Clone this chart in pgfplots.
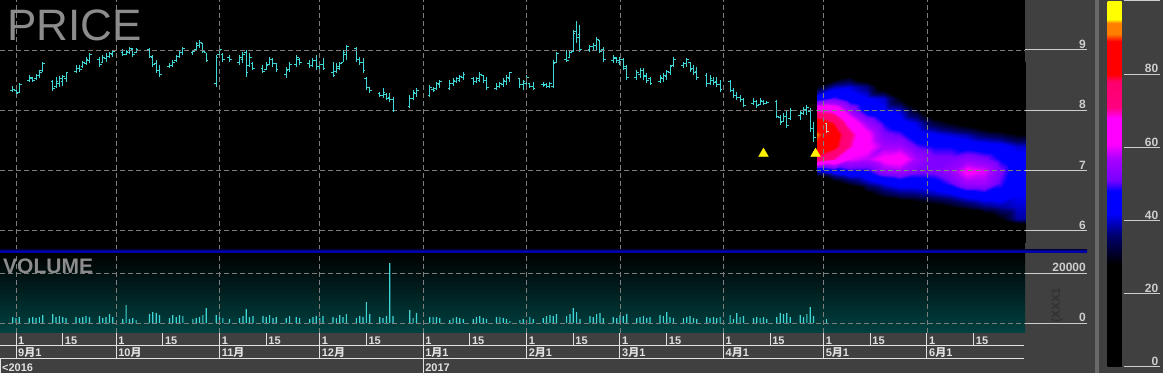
\documentclass[border=0pt]{standalone}
\usepackage{fontspec}
\setmainfont{Liberation Sans}
\newfontfamily\cjk{Noto Sans CJK SC}
\usepackage{pgfplots}
\usepackage{pgfplotstable}
\pgfplotsset{compat=1.18}

\definecolor{bgray}{RGB}{64,64,64}
\definecolor{sepgray}{RGB}{105,105,105}
\definecolor{barc}{RGB}{64,214,214}
\definecolor{gridc}{RGB}{125,125,125}
\definecolor{tickc}{RGB}{205,205,205}
\definecolor{labc}{RGB}{205,205,205}
\definecolor{datec}{RGB}{225,225,225}
\definecolor{teal0}{RGB}{0,66,66}
\definecolor{titlec}{RGB}{140,140,140}
\definecolor{faint}{RGB}{50,50,50}
\definecolor{lastbar}{RGB}{200,200,200}

\newcommand\yue{{\cjk 月}}
\newcommand\tickfont{\fontsize{12bp}{12bp}\selectfont\bfseries}
\newcommand\datefont{\fontsize{11bp}{11bp}\selectfont\bfseries}

\pgfdeclareplotmark{otick}{\pgfpathmoveto{\pgfpoint{-2.2bp}{0pt}}\pgfpathlineto{\pgfpoint{0pt}{0pt}}\pgfusepathqstroke}
\pgfdeclareplotmark{ctick}{\pgfpathmoveto{\pgfpoint{0pt}{0pt}}\pgfpathlineto{\pgfpoint{2.2bp}{0pt}}\pgfusepathqstroke}

\pgfplotsset{colormap={heat}{
 rgb255(0cm)=(0,0,0); rgb255(2.8cm)=(0,0,0); rgb255(3.6cm)=(0,0,110);
 rgb255(4.2cm)=(0,0,255); rgb255(4.8cm)=(0,0,255); rgb255(5.1cm)=(120,0,255);
 rgb255(5.7cm)=(170,0,255); rgb255(6.1cm)=(255,0,255); rgb255(6.8cm)=(255,0,255);
 rgb255(7.1cm)=(255,0,128); rgb255(7.8cm)=(255,0,110); rgb255(8.0cm)=(255,0,0);
 rgb255(8.9cm)=(255,0,0); rgb255(9.1cm)=(255,128,0); rgb255(9.4cm)=(255,128,0);
 rgb255(9.5cm)=(255,255,0); rgb255(10cm)=(255,255,0)}}

\pgfplotstableread{
d o h l c v
-1 8.32 8.40 8.30 8.35 2400
0 8.33 8.37 8.25 8.28 2000
1 8.30 8.45 8.29 8.43 2400
4 8.50 8.59 8.47 8.55 2000
5 8.52 8.55 8.47 8.50 2400
6 8.52 8.60 8.50 8.57 2000
7 8.57 8.67 8.54 8.63 2400
8 8.66 8.80 8.64 8.78 3200
11 8.47 8.50 8.32 8.36 3600
12 8.40 8.55 8.37 8.48 2400
13 8.45 8.57 8.39 8.52 2800
14 8.48 8.59 8.40 8.56 2400
15 8.52 8.64 8.47 8.62 2000
18 8.64 8.75 8.62 8.70 2400
19 8.70 8.75 8.64 8.68 2000
20 8.72 8.81 8.70 8.79 2400
21 8.78 8.88 8.75 8.85 2800
22 8.82 8.95 8.79 8.92 2400
25 8.85 8.88 8.72 8.76 2800
26 8.80 8.92 8.79 8.88 2000
27 8.86 8.95 8.80 8.90 2400
28 8.90 8.97 8.87 8.94 3600
29 8.92 9.00 8.88 8.97 2400
32 8.95 9.02 8.90 8.93 1600
33 8.93 9.00 8.92 8.97 7200
34 8.96 9.05 8.93 9.02 1600
35 9.00 9.03 8.88 8.92 2000
36 8.96 9.03 8.95 9.00 1200
40 9.00 9.03 8.87 8.90 3600
41 8.88 8.92 8.72 8.76 4400
42 8.78 8.83 8.62 8.66 4000
43 8.66 8.75 8.55 8.60 3200
46 8.72 8.79 8.70 8.75 2000
47 8.74 8.83 8.72 8.80 3200
48 8.82 8.92 8.80 8.90 2400
49 8.90 9.00 8.87 8.96 3200
50 8.95 9.05 8.92 9.02 2800
53 8.95 9.00 8.92 8.97 1600
54 9.00 9.13 9.00 9.10 2000
55 9.08 9.17 9.03 9.12 2400
56 9.10 9.12 8.95 8.98 3200
57 8.95 8.95 8.80 8.83 6000
60 8.45 8.92 8.39 8.88 3200
61 8.92 9.05 8.88 9.00 2400
62 8.93 8.95 8.80 8.85 2000
64 8.88 8.92 8.80 8.85 1600
67 8.80 8.92 8.75 8.88 2000
68 8.85 8.97 8.79 8.93 2800
69 8.95 9.00 8.55 8.62 5600
70 8.75 8.95 8.72 8.88 2400
71 8.78 8.80 8.67 8.70 2800
74 8.70 8.75 8.62 8.65 2800
75 8.68 8.80 8.67 8.75 2400
76 8.76 8.88 8.75 8.85 3200
77 8.84 8.87 8.72 8.78 2000
78 8.77 8.79 8.64 8.68 2400
81 8.60 8.72 8.54 8.66 2000
82 8.67 8.80 8.64 8.76 2800
84 8.76 8.92 8.72 8.88 2400
85 8.85 8.87 8.75 8.80 2000
88 8.78 8.83 8.70 8.74 1600
89 8.75 8.87 8.72 8.82 2400
90 8.82 8.92 8.67 8.72 2800
91 8.72 8.80 8.67 8.76 2000
92 8.76 8.87 8.67 8.70 2800
95 8.62 8.80 8.55 8.58 2400
96 8.64 8.79 8.62 8.72 2000
97 8.70 8.80 8.67 8.77 3200
98 8.80 9.00 8.80 8.95 2400
99 8.92 9.08 8.83 9.05 3600
102 9.03 9.05 8.80 8.85 2000
103 8.84 8.88 8.75 8.80 2800
104 8.80 8.87 8.62 8.66 2400
105 8.52 8.55 8.34 8.38 8400
106 8.37 8.39 8.29 8.32 3600
109 8.28 8.30 8.22 8.25 2400
110 8.25 8.37 8.20 8.30 2000
111 8.27 8.29 8.17 8.20 2800
112 8.22 8.29 8.14 8.18 24000
113 8.18 8.22 7.97 8.00 2800
118 8.06 8.25 8.04 8.20 5200
119 8.20 8.34 8.17 8.30 2000
120 8.28 8.37 8.22 8.33 4000
124 8.25 8.42 8.22 8.38 2400
125 8.35 8.39 8.30 8.33 2400
126 8.36 8.47 8.34 8.44 2400
127 8.42 8.50 8.37 8.47 2000
130 8.36 8.50 8.34 8.45 1200
131 8.44 8.54 8.40 8.50 2000
132 8.48 8.55 8.45 8.52 2400
133 8.50 8.59 8.47 8.56 2000
134 8.55 8.64 8.50 8.60 1600
137 8.52 8.55 8.42 8.47 1600
138 8.47 8.55 8.45 8.52 2400
139 8.50 8.64 8.47 8.60 2800
140 8.58 8.59 8.45 8.50 2000
141 8.50 8.55 8.34 8.38 1600
144 8.36 8.45 8.34 8.40 2400
145 8.40 8.47 8.37 8.44 2400
146 8.42 8.54 8.39 8.50 2000
147 8.48 8.59 8.42 8.55 1600
148 8.52 8.64 8.47 8.62 800
151 8.52 8.54 8.37 8.42 1200
152 8.42 8.50 8.34 8.47 1600
153 8.45 8.59 8.37 8.55 1200
154 8.44 8.45 8.37 8.40 2400
155 8.40 8.47 8.34 8.36 1600
158 8.43 8.47 8.39 8.41 2000
159 8.42 8.45 8.37 8.40 2800
160 8.40 8.47 8.37 8.44 3200
161 8.40 8.83 8.37 8.78 2800
162 8.80 8.97 8.79 8.94 3600
165 8.85 9.00 8.80 8.82 2800
166 8.88 9.00 8.87 8.95 3600
167 8.98 9.33 8.97 9.28 6000
168 9.30 9.48 9.12 9.20 4400
169 9.25 9.41 8.97 9.00 1600
172 9.00 9.08 8.97 9.05 2800
173 9.05 9.12 9.00 9.08 2400
174 9.08 9.22 9.00 9.18 3600
175 9.15 9.17 8.95 8.98 4000
176 9.00 9.05 8.80 8.84 2000
179 8.82 8.92 8.79 8.88 2400
180 8.86 8.88 8.79 8.82 2000
181 8.80 8.88 8.75 8.84 3200
182 8.84 8.87 8.67 8.70 2800
183 8.72 8.75 8.50 8.55 3600
186 8.54 8.67 8.50 8.62 2000
187 8.60 8.70 8.54 8.66 2400
188 8.66 8.70 8.50 8.56 2800
189 8.58 8.62 8.45 8.50 2000
190 8.52 8.55 8.42 8.45 2400
193 8.48 8.59 8.45 8.55 3200
194 8.52 8.62 8.47 8.58 2800
195 8.56 8.67 8.50 8.64 4400
196 8.62 8.75 8.59 8.72 2400
197 8.74 8.88 8.72 8.85 2000
200 8.75 8.80 8.70 8.78 2000
201 8.78 8.87 8.72 8.84 2400
202 8.80 8.80 8.64 8.68 2800
203 8.70 8.75 8.59 8.62 2000
204 8.64 8.72 8.50 8.54 1600
207 8.58 8.62 8.39 8.45 2400
208 8.45 8.59 8.42 8.52 2000
209 8.50 8.55 8.42 8.46 2400
210 8.48 8.55 8.39 8.42 2000
211 8.42 8.50 8.30 8.34 2400
214 8.48 8.50 8.30 8.33 3200
215 8.33 8.37 8.20 8.24 1600
216 8.25 8.30 8.17 8.22 4000
217 8.22 8.25 8.14 8.18 2400
218 8.18 8.20 8.05 8.08 2800
221 8.12 8.20 8.09 8.15 2000
222 8.14 8.17 8.04 8.08 2400
223 8.10 8.20 8.09 8.16 2000
224 8.14 8.17 8.09 8.12 2400
225 8.12 8.15 8.10 8.13 1600
228 8.15 8.17 7.87 7.90 2400
229 7.88 7.92 7.76 7.80 4000
230 7.82 7.96 7.81 7.90 3600
231 7.90 8.00 7.71 7.75 4000
232 7.86 8.04 7.84 8.00 2400
235 7.92 8.00 7.84 7.96 3200
236 7.95 8.05 7.92 8.02 2400
237 8.00 8.09 7.92 8.05 3600
238 7.98 8.04 7.64 7.70 6400
239 7.70 7.81 7.47 7.55 2800
}\ohlc

\pgfplotstableread{
d o h l c v
243 7.78 7.79 7.62 7.65 1600
}\lastbar

\begin{document}
\begin{tikzpicture}
\fill[bgray] (0,0) rectangle (1163bp,373bp);
\useasboundingbox (0,0) rectangle (1163bp,373bp);
\fill[sepgray] (1095bp,0) rectangle (1099bp,373bp);

% ---------------- price panel ----------------
\begin{axis}[
  at={(0bp,123bp)}, anchor=south west,
  scale only axis, width=1025bp, height=250bp,
  xmin=-4.795, xmax=302.37, ymin=5.683, ymax=9.829,
  axis background/.style={fill=black},
  axis line style={draw=none},
  xtick={0,30,61,91,122,153,181,212,242,273}, xticklabels={},
  xtick style={draw=none},
  xmajorgrids, ymajorgrids,
  major grid style={draw=gridc, line width=0.8bp, dash pattern=on 5bp off 3bp},
  ytick={6,7,8,9}, yticklabels={6,7,8,9},
  ytick pos=right, yticklabel pos=right,
  tick align=outside, major tick length=62bp,
  ytick style={draw=tickc, line width=1bp},
  yticklabel style={anchor=south east, font=\tickfont, text=labc, inner sep=1bp},
  axis on top,
  colormap name=heat, point meta min=0, point meta max=100,
  colorbar,
  colorbar style={
    at={(parent axis.north east)}, anchor=north west, xshift=74bp, yshift=-1bp,
    scale only axis, width=16bp, height=366bp,
    ytick={0,20,40,60,80,100}, yticklabels={0,20,40,60,80,{}},
    ytick pos=right, yticklabel pos=right,
    tick align=outside, major tick length=36bp,
    ytick style={draw=tickc, line width=1bp},
    axis line style={draw=none},
    yticklabel style={anchor=south east, font=\tickfont, text=labc, inner sep=1bp},
  },
]
\addplot[surf, shader=interp, point meta=explicit, mesh/cols=14, mesh/rows=16] coordinates {
(240,8.8) [0] (245,8.8) [0] (250,8.8) [2] (255,8.8) [0] (260,8.8) [0] (265,8.8) [0] (270,8.8) [0] (275,8.8) [0] (280,8.8) [0] (285,8.8) [0] (290,8.8) [0] (295,8.8) [0] (300,8.8) [0] (305,8.8) [0]
(240,8.6) [5] (245,8.6) [18] (250,8.6) [25] (255,8.6) [15] (260,8.6) [3] (265,8.6) [0] (270,8.6) [0] (275,8.6) [0] (280,8.6) [0] (285,8.6) [0] (290,8.6) [0] (295,8.6) [0] (300,8.6) [0] (305,8.6) [0]
(240,8.4) [28] (245,8.4) [38] (250,8.4) [40] (255,8.4) [36] (260,8.4) [22] (265,8.4) [10] (270,8.4) [2] (275,8.4) [0] (280,8.4) [0] (285,8.4) [0] (290,8.4) [0] (295,8.4) [0] (300,8.4) [0] (305,8.4) [0]
(240,8.2) [45] (245,8.2) [50] (250,8.2) [45] (255,8.2) [42] (260,8.2) [40] (265,8.2) [28] (270,8.2) [15] (275,8.2) [5] (280,8.2) [3] (285,8.2) [2] (290,8.2) [0] (295,8.2) [0] (300,8.2) [0] (305,8.2) [0]
(240,8.0) [68] (245,8.0) [66] (250,8.0) [55] (255,8.0) [45] (260,8.0) [42] (265,8.0) [40] (270,8.0) [30] (275,8.0) [18] (280,8.0) [15] (285,8.0) [10] (290,8.0) [6] (295,8.0) [4] (300,8.0) [2] (305,8.0) [2]
(240,7.8) [84] (245,7.8) [78] (250,7.8) [65] (255,7.8) [55] (260,7.8) [48] (265,7.8) [44] (270,7.8) [40] (275,7.8) [32] (280,7.8) [28] (285,7.8) [24] (290,7.8) [20] (295,7.8) [16] (300,7.8) [12] (305,7.8) [12]
(240,7.6) [91] (245,7.6) [84] (250,7.6) [72] (255,7.6) [62] (260,7.6) [52] (265,7.6) [50] (270,7.6) [44] (275,7.6) [42] (280,7.6) [40] (285,7.6) [38] (290,7.6) [34] (295,7.6) [32] (300,7.6) [28] (305,7.6) [28]
(240,7.4) [88] (245,7.4) [82] (250,7.4) [70] (255,7.4) [63] (260,7.4) [56] (265,7.4) [56] (270,7.4) [50] (275,7.4) [48] (280,7.4) [48] (285,7.4) [46] (290,7.4) [45] (295,7.4) [44] (300,7.4) [40] (305,7.4) [40]
(240,7.2) [76] (245,7.2) [70] (250,7.2) [60] (255,7.2) [58] (260,7.2) [62] (265,7.2) [64] (270,7.2) [56] (275,7.2) [52] (280,7.2) [52] (285,7.2) [54] (290,7.2) [52] (295,7.2) [48] (300,7.2) [44] (305,7.2) [44]
(240,7.0) [40] (245,7.0) [45] (250,7.0) [48] (255,7.0) [48] (260,7.0) [55] (265,7.0) [56] (270,7.0) [52] (275,7.0) [52] (280,7.0) [55] (285,7.0) [62] (290,7.0) [60] (295,7.0) [52] (300,7.0) [45] (305,7.0) [45]
(240,6.8) [12] (245,6.8) [25] (250,6.8) [32] (255,6.8) [38] (260,6.8) [42] (265,6.8) [45] (270,6.8) [45] (275,6.8) [46] (280,6.8) [50] (285,6.8) [56] (290,6.8) [56] (295,6.8) [50] (300,6.8) [44] (305,6.8) [44]
(240,6.6) [0] (245,6.6) [5] (250,6.6) [10] (255,6.6) [25] (260,6.6) [32] (265,6.6) [35] (270,6.6) [36] (275,6.6) [38] (280,6.6) [40] (285,6.6) [44] (290,6.6) [46] (295,6.6) [46] (300,6.6) [42] (305,6.6) [42]
(240,6.4) [0] (245,6.4) [0] (250,6.4) [0] (255,6.4) [3] (260,6.4) [10] (265,6.4) [18] (270,6.4) [22] (275,6.4) [25] (280,6.4) [28] (285,6.4) [32] (290,6.4) [36] (295,6.4) [38] (300,6.4) [40] (305,6.4) [40]
(240,6.2) [0] (245,6.2) [0] (250,6.2) [0] (255,6.2) [0] (260,6.2) [0] (265,6.2) [0] (270,6.2) [2] (275,6.2) [5] (280,6.2) [8] (285,6.2) [10] (290,6.2) [20] (295,6.2) [28] (300,6.2) [38] (305,6.2) [38]
(240,6.0) [0] (245,6.0) [0] (250,6.0) [0] (255,6.0) [0] (260,6.0) [0] (265,6.0) [0] (270,6.0) [0] (275,6.0) [0] (280,6.0) [0] (285,6.0) [0] (290,6.0) [2] (295,6.0) [5] (300,6.0) [12] (305,6.0) [12]
(240,5.8) [0] (245,5.8) [0] (250,5.8) [0] (255,5.8) [0] (260,5.8) [0] (265,5.8) [0] (270,5.8) [0] (275,5.8) [0] (280,5.8) [0] (285,5.8) [0] (290,5.8) [0] (295,5.8) [0] (300,5.8) [0] (305,5.8) [0]
};
% high-low lines
\addplot[draw=none, mark=none,
  error bars/.cd, y dir=plus, y explicit, error mark=none,
  error bar style={draw=barc, line width=1bp}]
  table[x=d, y=l, y error expr=\thisrow{h}-\thisrow{l}] {\ohlc};
\addplot[only marks, mark=otick, mark options={draw=barc, line width=1bp}] table[x=d, y=o] {\ohlc};
\addplot[only marks, mark=ctick, mark options={draw=barc, line width=1bp}] table[x=d, y=c] {\ohlc};
% current (grey) bar
\addplot[draw=none, mark=none,
  error bars/.cd, y dir=plus, y explicit, error mark=none,
  error bar style={draw=lastbar, line width=1bp}]
  table[x=d, y=l, y error expr=\thisrow{h}-\thisrow{l}] {\lastbar};
\addplot[only marks, mark=otick, mark options={draw=lastbar, line width=1bp}] table[x=d, y=o] {\lastbar};
\addplot[only marks, mark=ctick, mark options={draw=lastbar, line width=1bp}] table[x=d, y=c] {\lastbar};
% signals
\addplot[only marks, mark=triangle*, mark size=5.6bp, mark options={fill=yellow, draw=yellow}]
  coordinates {(224,7.28) (239.6,7.28)};
\end{axis}

\node[anchor=north west, inner sep=0pt, text=titlec, font=\fontsize{44bp}{44bp}\selectfont] at (7bp,363bp) {PRICE};

% separator
\shade[top color={rgb,255:red,0;green,0;blue,90}, bottom color={rgb,255:red,0;green,0;blue,90}, middle color={rgb,255:red,0;green,0;blue,200}] (0,120bp) rectangle (1087bp,123.5bp);

% ---------------- volume panel ----------------
\begin{axis}[
  at={(0bp,40bp)}, anchor=south west,
  scale only axis, width=1025bp, height=80bp,
  xmin=-4.795, xmax=302.37, ymin=-4000, ymax=28000,
  axis background/.style={top color=black, bottom color=teal0},
  axis line style={draw=none},
  xtick={0,30,61,91,122,153,181,212,242,273}, xticklabels={},
  xtick style={draw=none},
  xmajorgrids, ymajorgrids,
  major grid style={draw=gridc, line width=0.8bp, dash pattern=on 5bp off 3bp},
  ytick={0,20000}, yticklabels={0,20000}, scaled y ticks=false,
  ytick pos=right, yticklabel pos=right,
  tick align=outside, major tick length=62bp,
  ytick style={draw=tickc, line width=1bp},
  yticklabel style={anchor=south east, font=\tickfont, text=labc, inner sep=1bp},
  axis on top,
]
\addplot[ybar, bar width=1.2bp, bar shift=0pt, fill=barc, draw=none] table[x=d, y=v] {\ohlc};
\addplot[ybar, bar width=1.2bp, bar shift=0pt, fill=barc, draw=none] table[x=d, y=v] {\lastbar};
\end{axis}

\node[anchor=north west, inner sep=0pt, text=titlec, font=\fontsize{21bp}{21bp}\selectfont\bfseries] at (3bp,114bp) {VOLUME};
\node[rotate=90, text=faint, font=\fontsize{12bp}{12bp}\selectfont\bfseries] at (1057bp,68bp) {(XXX1};

% ---------------- date rows ----------------
\begin{axis}[
  at={(0bp,27bp)}, anchor=south west,
  scale only axis, width=1025bp, height=13bp,
  xmin=-4.795, xmax=302.37, ymin=0, ymax=1,
  axis line style={draw=none}, ytick=\empty,
  xtick={0,14,30,44,61,75,91,105,122,136,153,167,181,195,212,226,242,256,273,287},
  xticklabels={1,15,1,15,1,15,1,15,1,15,1,15,1,15,1,15,1,15,1,15},
  xtick style={draw=none},
  xmajorgrids, major grid style={draw=datec, line width=1bp},
  xticklabel style={anchor=south west, inner sep=0pt, xshift=2bp, yshift=1.5bp, font=\datefont, text=datec},
]
\end{axis}
\begin{axis}[
  at={(0bp,14bp)}, anchor=south west,
  scale only axis, width=1025bp, height=13bp,
  xmin=-4.795, xmax=302.37, ymin=0, ymax=1,
  axis line style={draw=none}, ytick=\empty,
  xtick={0,30,61,91,122,153,181,212,242,273},
  xticklabels={9\yue1,10\yue,11\yue,12\yue,1\yue1,2\yue1,3\yue1,4\yue1,5\yue1,6\yue1},
  xtick style={draw=none},
  xmajorgrids, major grid style={draw=datec, line width=1bp},
  xticklabel style={anchor=south west, inner sep=0pt, xshift=2bp, yshift=1bp, font=\datefont, text=datec},
]
\end{axis}
\begin{axis}[
  at={(0bp,0bp)}, anchor=south west,
  scale only axis, width=1025bp, height=14bp,
  xmin=-4.795, xmax=302.37, ymin=0, ymax=1,
  axis line style={draw=none}, ytick=\empty,
  xtick={-4.795,122},
  xticklabels={<2016,2017},
  xtick style={draw=none},
  xmajorgrids, major grid style={draw=datec, line width=1bp},
  xticklabel style={anchor=south west, inner sep=0pt, xshift=2bp, yshift=1.5bp, font=\datefont, text=datec},
]
\end{axis}
\draw[datec, line width=1bp] (0,27bp) -- (1024bp,27bp);
\draw[datec, line width=1bp] (0,14bp) -- (1024bp,14bp);
\end{tikzpicture}
\end{document}
